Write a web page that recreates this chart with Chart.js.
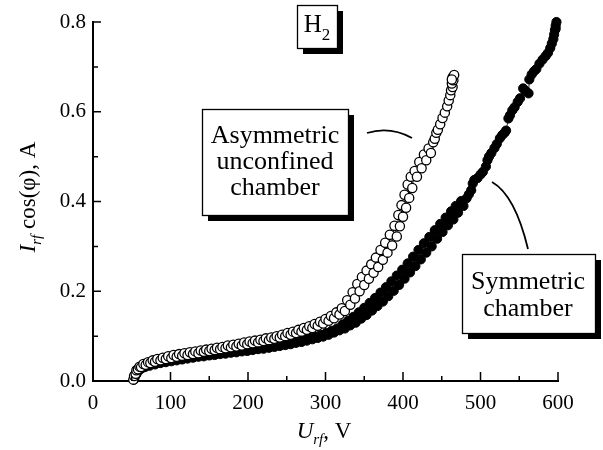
<!DOCTYPE html>
<html>
<head>
<meta charset="utf-8">
<script src="https://cdn.jsdelivr.net/npm/chart.js@4"></script>
<style>
  html, body { margin: 0; padding: 0; background: #fff; }
  canvas { display: block; }
</style>
</head>
<body>
<canvas id="chart" width="603" height="450"></canvas>
<script>
/* axis ticks */
var xTicks = [0, 100, 200, 300, 400, 500, 600];
var yTicks = [0.0, 0.2, 0.4, 0.6, 0.8];

/* asymmetric unconfined chamber (open circles) */
var asymU = [52, 53, 55, 56, 58, 60, 62, 65, 68, 71, 74, 77, 80, 83, 87, 90, 94, 97, 101, 104,
    108, 111, 115, 118, 122, 125, 129, 132, 136, 139, 143, 146, 150, 153, 157, 160, 164, 167, 171, 174,
    178, 181, 185, 188, 192, 195, 199, 202, 206, 209, 213, 216, 220, 223, 227, 230, 234, 237, 241, 244,
    248, 251, 255, 258, 262, 265, 269, 272, 276, 279, 283, 286, 290, 293, 297, 300, 304, 307, 311, 314,
    318, 321, 325, 328, 332, 335, 338, 341, 344, 347, 350, 353, 356, 359, 362, 365, 368, 371, 374, 377,
    380, 383, 386, 389, 392, 394, 396, 398, 400, 402, 404, 406, 408, 410, 412, 415, 418, 421, 424, 427,
    430, 433, 436, 439, 441, 443, 445, 448, 451, 454, 457, 459, 461, 462, 464, 463, 465, 464, 466, 463];
var asymI = [0.003, 0.011, 0.016, 0.024, 0.026, 0.032, 0.031, 0.038, 0.036, 0.042, 0.040, 0.046, 0.043, 0.049, 0.046, 0.052, 0.049, 0.055, 0.051, 0.058,
    0.054, 0.060, 0.056, 0.062, 0.058, 0.064, 0.060, 0.066, 0.062, 0.068, 0.065, 0.070, 0.067, 0.072, 0.069, 0.074, 0.071, 0.076, 0.073, 0.079,
    0.075, 0.081, 0.077, 0.083, 0.079, 0.086, 0.082, 0.088, 0.084, 0.090, 0.086, 0.092, 0.089, 0.095, 0.091, 0.097, 0.094, 0.100, 0.097, 0.103,
    0.100, 0.107, 0.103, 0.110, 0.107, 0.114, 0.110, 0.118, 0.114, 0.122, 0.118, 0.127, 0.123, 0.132, 0.128, 0.138, 0.134, 0.145, 0.140, 0.153,
    0.148, 0.162, 0.156, 0.180, 0.170, 0.198, 0.184, 0.216, 0.200, 0.232, 0.214, 0.246, 0.228, 0.260, 0.241, 0.275, 0.254, 0.292, 0.270, 0.308,
    0.286, 0.326, 0.302, 0.346, 0.322, 0.370, 0.345, 0.392, 0.366, 0.415, 0.386, 0.438, 0.408, 0.455, 0.430, 0.468, 0.455, 0.488, 0.474, 0.505,
    0.492, 0.518, 0.508, 0.532, 0.540, 0.553, 0.560, 0.572, 0.586, 0.598, 0.612, 0.625, 0.637, 0.648, 0.655, 0.663, 0.670, 0.677, 0.682, 0.672];

/* symmetric chamber (filled circles) */
var symU = [53, 54, 56, 57, 59, 61, 64, 67, 70, 73, 77, 80, 84, 87, 91, 94, 98, 101, 105, 108,
    112, 115, 119, 122, 126, 129, 133, 136, 140, 143, 147, 150, 154, 157, 161, 164, 168, 171, 175, 178,
    182, 185, 189, 192, 196, 199, 203, 206, 210, 213, 217, 220, 224, 227, 231, 234, 238, 241, 245, 248,
    252, 255, 259, 262, 266, 269, 273, 276, 280, 283, 287, 290, 294, 297, 301, 304, 308, 311, 315, 318,
    322, 325, 329, 332, 336, 339, 343, 346, 350, 353, 357, 360, 364, 367, 371, 374, 378, 381, 385, 388,
    392, 395, 399, 402, 406, 409, 413, 416, 420, 423, 427, 430, 434, 437, 441, 444, 448, 451, 455, 458,
    462, 465, 468, 471, 475, 478, 482, 485, 488, 490, 492, 496, 500, 503, 507, 509, 511, 514, 518, 521,
    525, 528, 531, 533, 536, 538, 541, 544, 548, 551, 555, 558, 562, 563, 566, 569, 572, 576, 580, 584,
    587, 590, 592, 594, 595, 596, 597, 598, 597];
var symI = [0.003, 0.009, 0.015, 0.020, 0.024, 0.026, 0.030, 0.031, 0.035, 0.034, 0.039, 0.037, 0.042, 0.040, 0.045, 0.042, 0.047, 0.044, 0.049, 0.046,
    0.051, 0.048, 0.053, 0.050, 0.055, 0.052, 0.057, 0.054, 0.058, 0.055, 0.060, 0.057, 0.061, 0.058, 0.063, 0.060, 0.064, 0.061, 0.066, 0.063,
    0.067, 0.064, 0.069, 0.066, 0.070, 0.067, 0.072, 0.069, 0.074, 0.071, 0.075, 0.072, 0.077, 0.074, 0.079, 0.076, 0.081, 0.078, 0.083, 0.080,
    0.085, 0.082, 0.088, 0.085, 0.090, 0.087, 0.093, 0.090, 0.096, 0.093, 0.099, 0.096, 0.103, 0.099, 0.107, 0.103, 0.112, 0.108, 0.117, 0.113,
    0.126, 0.117, 0.134, 0.124, 0.143, 0.130, 0.153, 0.139, 0.163, 0.147, 0.174, 0.157, 0.185, 0.167, 0.197, 0.177, 0.209, 0.189, 0.222, 0.201,
    0.235, 0.214, 0.248, 0.228, 0.262, 0.242, 0.277, 0.256, 0.292, 0.271, 0.307, 0.286, 0.321, 0.300, 0.336, 0.317, 0.350, 0.332, 0.364, 0.347,
    0.378, 0.360, 0.390, 0.375, 0.401, 0.390, 0.407, 0.416, 0.425, 0.440, 0.448, 0.452, 0.460, 0.466, 0.478, 0.492, 0.500, 0.508, 0.519, 0.528,
    0.541, 0.548, 0.553, 0.558, 0.585, 0.592, 0.603, 0.610, 0.622, 0.630, 0.652, 0.647, 0.641, 0.672, 0.683, 0.690, 0.695, 0.707, 0.716, 0.724,
    0.731, 0.742, 0.752, 0.762, 0.772, 0.782, 0.792, 0.800, 0.785];

var SERIF = "'Liberation Serif', 'Times New Roman', serif";

function toPoints(us, is) {
    return us.map(function (u, i) { return { x: u, y: is[i] }; });
}

/* text made of pieces (italic, subscript ...) centred on x */
function drawParts(ctx, parts, x, y) {
    var total = 0;
    parts.forEach(function (p) { ctx.font = p.font; total += ctx.measureText(p.t).width; });
    var cur = x - total / 2;
    ctx.textAlign = 'left';
    ctx.textBaseline = 'alphabetic';
    parts.forEach(function (p) {
        ctx.font = p.font;
        ctx.fillText(p.t, cur, y + (p.dy || 0));
        cur += ctx.measureText(p.t).width;
    });
}

// box with a heavy drop shadow on the right and bottom
function shadowBox(ctx, x, y, w, h) {
    ctx.fillStyle = '#000';
    ctx.fillRect(x + 6, y + 6, w, h);
    ctx.fillStyle = '#fff';
    ctx.fillRect(x, y, w, h);
    ctx.strokeStyle = '#000';
    ctx.lineWidth = 1.3;
    ctx.strokeRect(x + 0.5, y + 0.5, w, h);
}

var decorations = {
    id: 'decorations',
    afterDraw: function (chart) {
        var ctx = chart.ctx;
        var xs = chart.scales.x, ys = chart.scales.y;
        var area = chart.chartArea;
        ctx.save();

        /* inward ticks, minor at the halves */
        ctx.strokeStyle = '#000';
        ctx.lineWidth = 1.5;
        ctx.beginPath();
        for (var v = 50; v <= 600; v += 50) {
            var px = xs.getPixelForValue(v);
            var len = v % 100 === 0 ? 9 : 5;
            ctx.moveTo(px, area.bottom);
            ctx.lineTo(px, area.bottom - len);
        }
        for (var k = 1; k <= 8; k++) {
            var py = ys.getPixelForValue(k / 10);
            var l = k % 2 === 0 ? 8 : 5;
            ctx.moveTo(area.left, py);
            ctx.lineTo(area.left + l, py);
        }
        ctx.stroke();

        /* axis titles */
        ctx.fillStyle = '#000';
        drawParts(ctx, [
            { t: 'U', font: 'italic 23px ' + SERIF },
            { t: 'rf', font: 'italic 15px ' + SERIF, dy: 6 },
            { t: ', V', font: '23px ' + SERIF }
        ], 324, 438);

        ctx.save();
        ctx.translate(35, 197);
        ctx.rotate(-Math.PI / 2);
        drawParts(ctx, [
            { t: 'I', font: 'italic 23px ' + SERIF },
            { t: 'rf', font: 'italic 15px ' + SERIF, dy: 6 },
            { t: ' cos(φ), A', font: '23px ' + SERIF }
        ], 0, 0);
        ctx.restore();

        /* gas label */
        shadowBox(ctx, 297, 5, 40, 43);
        ctx.fillStyle = '#000';
        drawParts(ctx, [
            { t: 'H', font: '25px ' + SERIF },
            { t: '2', font: '17px ' + SERIF, dy: 8 }
        ], 317, 32);

        /* series labels */
        shadowBox(ctx, 202, 109, 146, 106);
        ctx.fillStyle = '#000';
        ctx.font = '26px ' + SERIF;
        ctx.textAlign = 'center';
        ctx.fillText('Asymmetric', 275, 143);
        ctx.fillText('unconfined', 275, 169);
        ctx.fillText('chamber', 275, 195);

        shadowBox(ctx, 462, 254, 133, 79);
        ctx.fillStyle = '#000';
        ctx.font = '26px ' + SERIF;
        ctx.textAlign = 'center';
        ctx.fillText('Symmetric', 528, 289);
        ctx.fillText('chamber', 528, 316);

        /* pointer curves */
        ctx.strokeStyle = '#000';
        ctx.lineWidth = 1.8;
        ctx.beginPath();
        ctx.moveTo(367, 133);
        ctx.quadraticCurveTo(390, 126, 412, 138);
        ctx.stroke();
        ctx.beginPath();
        ctx.moveTo(492, 182);
        ctx.quadraticCurveTo(515, 195, 528, 249);
        ctx.stroke();

        ctx.restore();
    }
};

new Chart(document.getElementById('chart').getContext('2d'), {
    type: 'scatter',
    data: {
        datasets: [{
            label: 'Asymmetric unconfined chamber',
            data: toPoints(asymU, asymI),
            showLine: true,
            borderColor: '#000',
            borderWidth: 0.8,
            pointRadius: 4.6,
            pointBorderWidth: 1.3,
            pointBackgroundColor: '#fff',
            pointBorderColor: '#000',
            clip: 10,
            order: 0
        }, {
            label: 'Symmetric chamber',
            data: toPoints(symU, symI),
            showLine: true,
            borderColor: '#000',
            borderWidth: 0.8,
            pointRadius: 4.6,
            pointBorderWidth: 1,
            pointBackgroundColor: '#000',
            pointBorderColor: '#000',
            clip: 10,
            order: 1
        }]
    },
    options: {
        responsive: false,
        devicePixelRatio: 1,
        animation: false,
        layout: { padding: { top: 22, right: 45, left: 0, bottom: 0 } },
        plugins: { legend: { display: false }, tooltip: { enabled: false } },
        scales: {
            x: {
                type: 'linear',
                min: 0, max: 600,
                afterBuildTicks: function (s) { s.ticks = xTicks.map(function (v) { return { value: v }; }); },
                afterFit: function (s) { s.height = 69; },
                grid: { display: false, drawTicks: false },
                border: { display: true, color: '#000', width: 2 },
                ticks: { color: '#000', padding: 10, font: { family: SERIF, size: 21 }, maxRotation: 0 }
            },
            y: {
                type: 'linear',
                min: 0, max: 0.8,
                afterBuildTicks: function (s) { s.ticks = yTicks.map(function (v) { return { value: v }; }); },
                afterFit: function (s) { s.width = 93; },
                grid: { display: false, drawTicks: false },
                border: { display: true, color: '#000', width: 2 },
                ticks: {
                    color: '#000', padding: 7, font: { family: SERIF, size: 21 },
                    callback: function (v) { return v.toFixed(1); }
                }
            }
        }
    },
    plugins: [decorations]
});
</script>
</body>
</html>
